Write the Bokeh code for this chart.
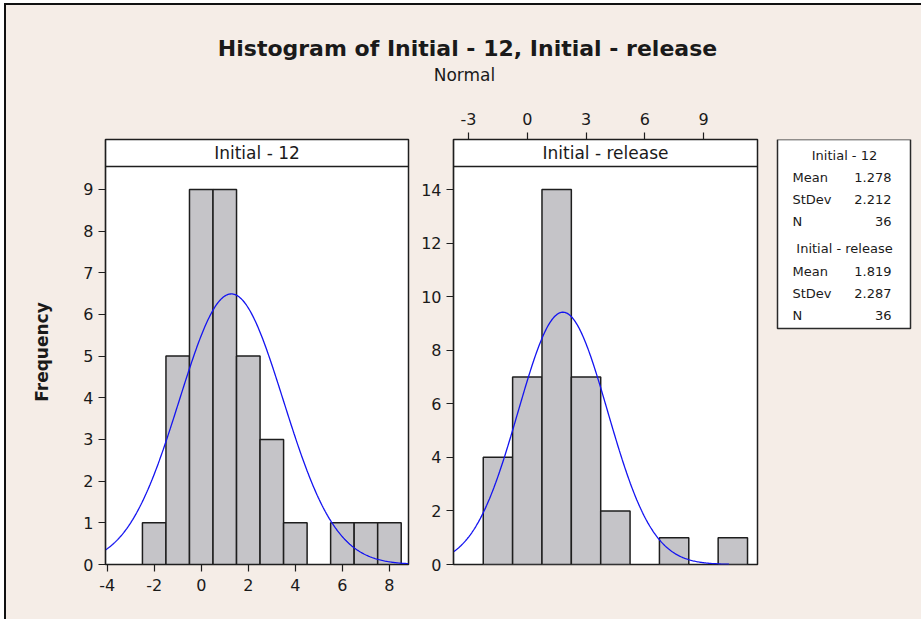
import numpy as np
from bokeh.plotting import figure
from bokeh.layouts import row, column
from bokeh.models import Range1d, FixedTicker, Span
from bokeh.embed import file_html
from bokeh.resources import INLINE
from bokeh.core.properties import value

# ---- data -------------------------------------------------------------
title_text = "Histogram of Initial - 12, Initial - release"
subtitle_text = "Normal"

names = ["Initial - 12", "Initial - release"]

# Initial - 12 : bin midpoints, counts, bin width
mid_12 = [-2, -1, 0, 1, 2, 3, 4, 5, 6, 7, 8]
cnt_12 = [1, 5, 9, 9, 5, 3, 1, 0, 1, 1, 1]
bw_12 = 1.0

# Initial - release
mid_rel = [-1.5, 0, 1.5, 3, 4.5, 6, 7.5, 9, 10.5]
cnt_rel = [4, 7, 14, 7, 2, 0, 1, 0, 1]
bw_rel = 1.5

means = [1.278, 1.819]
stdevs = [2.212, 2.287]
ns = [36, 36]

xticks_12 = [-4, -2, 0, 2, 4, 6, 8]
yticks_12 = [0, 1, 2, 3, 4, 5, 6, 7, 8, 9]
xticks_rel = [-3, 0, 3, 6, 9]
yticks_rel = [0, 2, 4, 6, 8, 10, 12, 14]

# ---- style ------------------------------------------------------------
BG = "#F5EDE7"
BAR = "#C5C4C8"
EDGE = "#1e1e1e"
CURVE = "#1414F0"
FONT = "DejaVu Sans"
TXT = "#1a1a1a"

ROW_H = 519
MB_TOP, MB_BOTTOM = 39, 55
FRAME_H = ROW_H - MB_TOP - MB_BOTTOM   # frame height incl. strip header
STRIP_H = 27                           # strip header height (px)


def plain(width, height, xr, yr, **kw):
    p = figure(width=width, height=height, output_backend="svg",
               toolbar_location=None, min_border=0,
               x_range=Range1d(*xr), y_range=Range1d(*yr), **kw)
    p.axis.visible = False
    p.grid.visible = False
    p.outline_line_color = None
    p.background_fill_color = BG
    p.border_fill_color = BG
    return p


def panel(width, mb_left, mb_right, mids, counts, bw, mean, sd, n,
          xr, ytop, xticks, yticks, xloc, curve_end, label):
    p = figure(width=width, height=ROW_H, output_backend="svg",
               toolbar_location=None, min_border=0,
               min_border_left=mb_left, min_border_right=mb_right,
               min_border_top=MB_TOP, min_border_bottom=MB_BOTTOM,
               x_axis_location=xloc,
               x_range=Range1d(*xr),
               y_range=Range1d(0, ytop * FRAME_H / (FRAME_H - STRIP_H)))
    p.background_fill_color = "white"
    p.border_fill_color = BG
    p.outline_line_color = EDGE
    p.outline_line_width = 1.5
    p.grid.visible = False

    # bars (empty bins are not drawn)
    mids_a = np.array(mids, dtype=float)
    cnts_a = np.array(counts, dtype=float)
    keep = cnts_a > 0
    p.quad(left=mids_a[keep] - bw / 2, right=mids_a[keep] + bw / 2,
           bottom=0, top=cnts_a[keep], fill_color=BAR,
           line_color=EDGE, line_width=1.5)

    # fitted normal curve scaled to counts
    xs = np.linspace(xr[0], curve_end, 300)
    ys = n * bw * np.exp(-0.5 * ((xs - mean) / sd) ** 2) / (sd * np.sqrt(2 * np.pi))
    p.line(xs, ys, line_color=CURVE, line_width=1.3)

    # strip header
    p.add_layout(Span(location=ytop, dimension="width",
                      line_color=EDGE, line_width=1.5))
    ymid = (ytop + p.y_range.end) / 2
    p.text(x=[(xr[0] + xr[1]) / 2], y=[ymid], text=[label],
           text_font=value(FONT), text_font_size="17px",
           text_align="center", text_baseline="middle", text_color=TXT)

    for ax in p.axis:
        ax.axis_line_color = EDGE
        ax.axis_line_width = 1.2
        ax.major_tick_line_color = EDGE
        ax.major_tick_line_width = 1.2
        ax.major_tick_in = 0
        ax.major_tick_out = 7
        ax.minor_tick_line_color = None
        ax.major_label_text_font = FONT
        ax.major_label_text_font_size = "16px"
        ax.major_label_text_color = TXT
    p.xaxis.ticker = FixedTicker(ticks=xticks)
    p.yaxis.ticker = FixedTicker(ticks=yticks)
    p.xaxis.major_label_overrides = {t: str(t) for t in xticks}
    p.yaxis.major_label_overrides = {t: str(t) for t in yticks}
    p.xaxis.major_label_standoff = 7
    p.yaxis.major_label_standoff = 5
    return p


left = panel(406, 99, 4, mid_12, cnt_12, bw_12, means[0], stdevs[0], ns[0],
             (-4.07, 8.81), 9.55, xticks_12, yticks_12, "below", 8.81, names[0])
left.yaxis.axis_label = "Frequency"
left.yaxis.axis_label_text_font = FONT
left.yaxis.axis_label_text_font_size = "17px"
left.yaxis.axis_label_text_font_style = "bold"
left.yaxis.axis_label_text_color = TXT
left.yaxis.axis_label_standoff = 28

right = panel(358, 41, 13, mid_rel, cnt_rel, bw_rel, means[1], stdevs[1], ns[1],
              (-3.77, 11.76), 14.86, xticks_rel, yticks_rel, "above", 10.3, names[1])
right.xaxis.major_label_standoff = 8

# statistics box (page coordinates)
leg = plain(151, ROW_H, (770, 921), (564, 139),
            min_border_top=MB_TOP, min_border_bottom=MB_BOTTOM)
leg.quad(left=[777], right=[910], top=[139], bottom=[328], fill_color="white",
         line_color="#2a2a2a", line_width=1.5)

hdr_y = [155, 248]
row_y = [[177, 199, 221], [271, 293, 315]]
for i in range(2):
    leg.text(x=[844], y=[hdr_y[i]], text=[names[i]], text_font=value(FONT),
             text_font_size="13px", text_align="center", text_baseline="middle",
             text_color=TXT)
    leg.text(x=[792] * 3, y=row_y[i], text=["Mean", "StDev", "N"],
             text_font=value(FONT), text_font_size="13px", text_align="left",
             text_baseline="middle", text_color=TXT)
    leg.text(x=[891] * 3, y=row_y[i],
             text=[f"{means[i]:.3f}", f"{stdevs[i]:.3f}", f"{ns[i]}"],
             text_font=value(FONT), text_font_size="13px", text_align="right",
             text_baseline="middle", text_color=TXT)

# title area (page coordinates)
top = plain(915, 95, (6, 921), (100, 5))
top.text(x=[467], y=[48], text=[title_text], text_font=value(FONT),
         text_font_size="22px", text_font_style="bold", text_align="center",
         text_baseline="middle", text_color=TXT)
top.text(x=[464], y=[74], text=[subtitle_text], text_font=value(FONT),
         text_font_size="17px", text_align="center", text_baseline="middle",
         text_color=TXT)

layout = column(top, row(left, right, leg, spacing=0), spacing=0,
                styles={"border-top": "2px solid #111111",
                        "border-left": "2px solid #111111",
                        "margin": "3px 0px 0px 4px",
                        "background-color": BG})

open("out.html", "w").write(file_html(layout, INLINE))
